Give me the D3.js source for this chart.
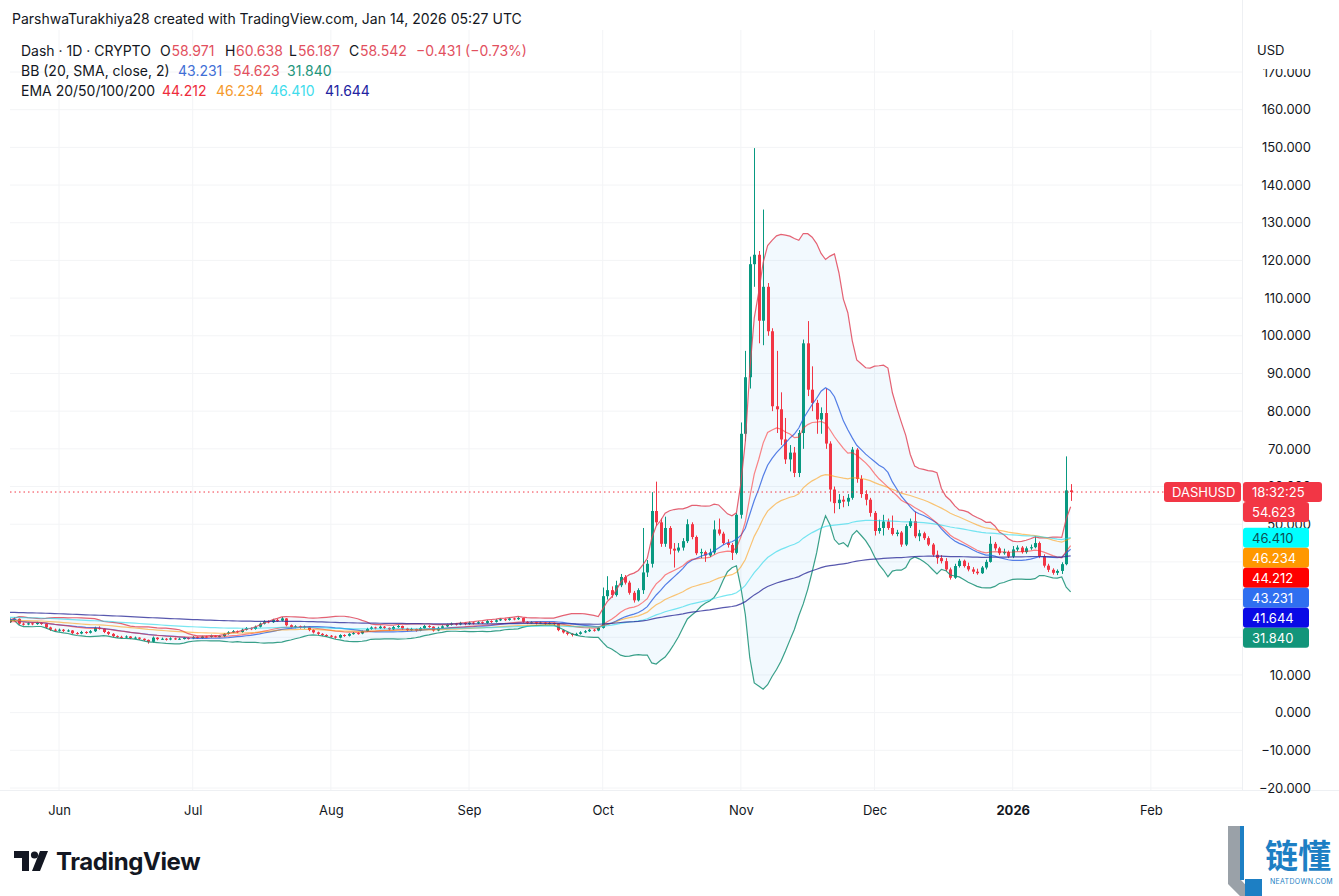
<!DOCTYPE html>
<html>
<head>
<meta charset="utf-8">
<script src="https://cdn.jsdelivr.net/npm/d3@7"></script>
<style>
  html, body { margin: 0; padding: 0; background: #fff; }
  svg { display: block; font-family: Inter, "Noto Sans", sans-serif; }
</style>
</head>
<body>
<svg id="chart" width="1339" height="896"></svg>
<script>
// daily candles, DASH/USD, first candle 2025-05-21
const startDate = "2025-05-21"
const firstOpen = 24.0

// closes, by month
const closes = [
  // May 21-31
  24.6, 24.9, 23.6, 23.4, 23.7, 23.5, 23.8, 23.6, 22.6, 22.0, 21.8,
  // Jun
  22.0, 21.7, 21.8, 21.1, 21.0, 21.4, 21.2, 21.6, 22.5, 22.3, 21.4, 20.9, 20.3, 20.1, 20.0,
  20.2, 19.8, 19.9, 19.6, 19.3, 18.8, 19.9, 19.5, 19.6, 19.4, 19.7, 19.5, 19.6, 19.8, 19.7,
  // Jul
  20.0, 19.8, 20.2, 20.1, 20.4, 20.2, 20.3, 20.9, 21.3, 21.6, 21.4, 22.0, 22.4, 22.2, 22.8, 23.6,
  24.2, 24.0, 24.6, 24.4, 25.0, 23.2, 22.7, 22.9, 22.6, 22.8, 21.9, 21.3, 20.9, 20.6, 20.4,
  // Aug
  20.2, 19.9, 20.6, 20.4, 20.9, 21.1, 21.0, 21.6, 22.2, 22.6, 22.4, 22.8, 22.5, 22.1, 22.7, 23.0,
  22.3, 21.9, 22.2, 21.8, 22.4, 23.0, 22.8, 21.8, 22.5, 22.9, 23.3, 23.6, 23.4, 23.8, 23.5,
  // Sep
  23.9, 23.7, 24.0, 23.8, 24.3, 24.1, 24.5, 24.8, 24.6, 25.0, 24.8, 25.1, 24.1, 23.8, 24.0,
  23.7, 23.9, 23.6, 23.8, 23.5, 21.9, 21.3, 20.9, 20.6, 20.9, 21.3, 21.6, 22.0, 21.8, 22.5,
  // Oct
  30.9, 32.5, 31.2, 33.8, 36.0, 34.5, 31.8, 29.8, 32.5, 37.2, 39.5, 53.5, 50.5, 44.8, 49.0, 43.5,
  43.0, 43.8, 45.5, 50.0, 46.6, 42.3, 42.6, 41.7, 42.5, 48.6, 47.5, 45.0, 44.5, 42.4, 52.5,
  // Nov
  74.0, 89.0, 119.0, 121.5, 104.0, 113.0, 101.2, 81.3, 80.5, 72.5, 67.2, 69.0, 63.6, 74.2, 98.0,
  85.7, 82.2, 77.8, 79.5, 71.4, 59.2, 55.6, 56.5, 56.0, 57.0, 69.8, 62.0, 58.0, 56.5, 53.0,
  // Dec
  48.2, 49.0, 50.7, 49.0, 47.4, 47.8, 44.6, 49.5, 50.8, 46.8, 47.6, 46.3, 44.6, 41.9, 41.0, 40.2,
  38.0, 35.8, 38.9, 40.3, 38.9, 38.0, 37.4, 37.0, 38.5, 40.0, 44.8, 43.6, 42.3, 42.6, 41.4,
  // Jan 1-14
  43.3, 43.8, 42.6, 43.6, 43.9, 45.0, 41.5, 39.0, 37.9, 37.1, 37.6, 39.4, 58.971, 58.542,
]

const highs = [
  25.0, 25.3, 25.0, 23.9, 24.0, 23.9, 24.1, 24.0, 23.7, 22.8, 22.3,
  22.3, 22.2, 22.1, 21.9, 21.4, 21.7, 21.6, 21.9, 22.8, 22.9, 22.4, 21.6, 21.1, 20.5, 20.4,
  20.5, 20.3, 20.2, 20.0, 19.7, 19.4, 20.2, 20.0, 19.9, 19.8, 20.0, 19.9, 19.9, 20.1, 20.0,
  20.3, 20.2, 20.4, 20.4, 20.7, 20.6, 20.6, 21.1, 21.6, 21.9, 21.8, 22.3, 22.7, 22.6, 23.1, 23.9,
  24.5, 24.5, 24.9, 24.9, 25.4, 25.1, 23.4, 23.2, 23.1, 23.1, 22.9, 22.1, 21.5, 21.1, 20.8,
  20.6, 20.4, 20.8, 20.8, 21.1, 21.4, 21.3, 21.8, 22.5, 22.9, 22.8, 23.1, 23.0, 22.6, 23.0, 23.3,
  23.1, 22.5, 22.5, 22.3, 22.7, 23.3, 23.2, 22.9, 22.8, 23.2, 23.6, 23.9, 23.8, 24.1, 24.0,
  24.2, 24.1, 24.3, 24.2, 24.6, 24.5, 24.8, 25.1, 25.0, 25.3, 25.2, 25.5, 25.2, 24.3, 24.3,
  24.1, 24.2, 24.0, 24.1, 23.9, 23.6, 22.1, 21.5, 21.1, 21.2, 21.6, 21.9, 22.3, 22.2, 22.8,
  33.2, 36.2, 33.5, 35.0, 36.8, 36.5, 35.0, 32.3, 33.0, 49.0, 40.5, 58.5, 61.3, 51.5, 52.0, 49.5,
  45.0, 45.0, 46.3, 51.3, 50.5, 47.0, 43.5, 43.0, 43.5, 51.0, 51.5, 48.0, 46.0, 45.0, 53.0,
  77.0, 96.0, 121.0, 149.8, 122.5, 133.5, 114.0, 102.0, 96.0, 85.0, 78.2, 71.0, 70.5, 75.0, 99.0,
  103.9, 91.9, 83.0, 81.0, 86.0, 72.0, 60.0, 58.0, 57.5, 58.0, 70.5, 70.2, 63.0, 59.0, 57.0,
  53.5, 51.2, 52.5, 51.5, 52.3, 48.5, 48.2, 50.0, 51.5, 53.4, 48.5, 48.0, 46.8, 45.0, 43.0, 41.8,
  41.0, 38.5, 39.5, 40.8, 40.6, 39.8, 38.6, 38.2, 38.9, 40.6, 46.8, 45.3, 44.0, 43.5, 43.0,
  44.2, 44.4, 44.2, 44.1, 44.6, 46.8, 45.4, 42.0, 39.5, 38.3, 38.0, 39.9, 68.0, 60.638,
]

const lows = [
  23.8, 24.3, 23.3, 23.1, 23.2, 23.2, 23.3, 23.3, 22.3, 21.7, 21.5,
  21.5, 21.4, 21.4, 20.8, 20.7, 20.8, 20.9, 21.0, 21.4, 22.0, 21.1, 20.6, 20.0, 19.8, 19.7,
  19.8, 19.5, 19.6, 19.3, 19.0, 18.3, 18.6, 19.2, 19.3, 19.1, 19.2, 19.3, 19.3, 19.4, 19.4,
  19.5, 19.6, 19.6, 19.9, 19.9, 20.0, 20.0, 20.1, 20.7, 21.1, 21.1, 21.2, 21.8, 21.9, 22.0, 22.6,
  23.4, 23.7, 23.8, 24.1, 24.2, 22.9, 22.4, 22.4, 22.3, 22.3, 21.6, 21.0, 20.6, 20.3, 20.1,
  19.9, 19.6, 19.7, 20.1, 20.2, 20.7, 20.7, 20.8, 21.4, 22.0, 22.1, 22.2, 22.2, 21.8, 21.9, 22.5,
  22.0, 21.6, 21.7, 21.5, 21.6, 22.2, 22.5, 21.5, 21.6, 22.3, 22.7, 23.1, 23.1, 23.2, 23.2,
  23.3, 23.4, 23.5, 23.5, 23.6, 23.8, 23.9, 24.3, 24.3, 24.4, 24.5, 24.6, 23.8, 23.5, 23.6,
  23.4, 23.5, 23.3, 23.4, 23.2, 21.6, 21.0, 20.5, 20.2, 20.4, 20.7, 21.1, 21.4, 21.5, 21.6,
  22.3, 30.0, 30.5, 30.8, 33.3, 34.0, 31.3, 29.2, 29.5, 31.5, 36.0, 38.5, 49.5, 44.0, 44.0, 42.0,
  38.5, 42.5, 43.0, 45.0, 46.0, 41.8, 41.0, 40.0, 41.3, 42.0, 47.0, 44.5, 43.8, 40.5, 42.0,
  51.5, 72.0, 86.0, 113.0, 98.0, 97.5, 100.0, 80.0, 74.2, 71.0, 66.0, 64.0, 62.5, 62.5, 70.0,
  84.0, 80.0, 74.0, 74.0, 70.0, 56.0, 52.9, 54.0, 54.5, 54.8, 56.5, 61.0, 57.0, 55.0, 52.0,
  47.0, 47.5, 47.0, 48.5, 47.0, 46.8, 44.0, 44.2, 49.0, 46.3, 45.5, 45.8, 44.2, 41.4, 39.5, 39.6,
  37.6, 35.3, 35.5, 38.5, 38.5, 37.5, 36.8, 36.6, 36.8, 38.0, 39.8, 43.0, 41.8, 41.9, 41.0,
  41.0, 42.8, 42.2, 42.2, 43.2, 43.6, 41.0, 38.5, 37.3, 36.6, 36.5, 36.8, 39.1, 56.187,
]

// EMA values at the first visible candle
const emaSeeds = [24.1, 24.5, 25.3, 26.6]
const emaLengths = [20, 50, 100, 200]

// axis ticks
const yTicks = [-20, -10, 0, 10, 20, 30, 40, 50, 60, 70, 80, 90, 100, 110, 120, 130, 140, 150, 160, 170]
const monthTicks = ["2025-06-01", "2025-07-01", "2025-08-01", "2025-09-01", "2025-10-01",
  "2025-11-01", "2025-12-01", "2026-01-01", "2026-02-01"]
const monthLabels = ["Jun", "Jul", "Aug", "Sep", "Oct", "Nov", "Dec", "2026", "Feb"]

// legend texts
const ohlcValues = ["58.971", "60.638", "56.187", "58.542"]
const changeText = "\u22120.431 (\u22120.73%)"
const bbValues = ["43.231", "54.623", "31.840"]   // basis, upper, lower
const emaValues = ["44.212", "46.234", "46.410", "41.644"]
const countdown = "18:32:25"

const UP = "#089981", DOWN = "#F23645"
const TEXT = "#131722"

const svg = d3.select("#chart")

/*
 * scales
 */
const x = d3.scaleUtc()
  .domain([new Date("2025-05-21"), new Date("2026-02-21")])
  .range([10, 1240])

const y = d3.scaleLinear().domain([-20, 170]).range([788, 72])

/*
 * series
 */
const start = new Date(startDate)
const candles = closes.map((c, i) => ({
  date: d3.utcDay.offset(start, i),
  o: i ? closes[i - 1] : firstOpen,
  h: highs[i],
  l: lows[i],
  c,
}))

// bollinger bands (20, 2)
const bb = candles.map((d, i) => {
  const win = closes.slice(Math.max(0, i - 19), i + 1)
  const m = d3.mean(win)
  const sd = Math.sqrt(d3.mean(win, (v) => (v - m) ** 2))
  return { date: d.date, basis: m, upper: m + 2 * sd, lower: m - 2 * sd }
})

// EMAs
const emas = emaLengths.map((n, k) => {
  const a = 2 / (n + 1)
  let e = emaSeeds[k]
  return candles.map((d, i) => {
    if (i > 0) e = a * d.c + (1 - a) * e
    return { date: d.date, v: e }
  })
})

/*
 * background grid
 */
svg.append("rect").attr("width", 1339).attr("height", 896).attr("fill", "#fff")

const grid = svg.append("g")
grid.selectAll("line.h")
  .data(yTicks)
  .join("line")
  .attr("x1", 10).attr("x2", 1242)
  .attr("y1", (d) => y(d)).attr("y2", (d) => y(d))
  .attr("stroke", "#f3f4f6")
grid.selectAll("line.v")
  .data(monthTicks)
  .join("line")
  .attr("x1", (d) => x(new Date(d))).attr("x2", (d) => x(new Date(d)))
  .attr("y1", 30).attr("y2", 790)
  .attr("stroke", "#f3f4f6")

// axis separators
svg.append("line").attr("x1", 1242.5).attr("x2", 1242.5).attr("y1", 0).attr("y2", 790)
  .attr("stroke", "#eef0f3")
svg.append("line").attr("x1", 0).attr("x2", 1339).attr("y1", 790.5).attr("y2", 790.5)
  .attr("stroke", "#eef0f3")

svg.append("defs").append("clipPath").attr("id", "plotClip")
  .append("rect").attr("x", 10).attr("y", 30).attr("width", 1232).attr("height", 760)

const plot = svg.append("g").attr("clip-path", "url(#plotClip)")

/*
 * bollinger fill
 */
plot.append("path")
  .datum(bb)
  .attr("fill", "rgba(33,150,243,0.06)")
  .attr("d", d3.area().x((d) => x(d.date)).y0((d) => y(d.lower)).y1((d) => y(d.upper)))

/*
 * candles
 */
const cg = plot.append("g")
const bodyW = 3
cg.selectAll("line")
  .data(candles)
  .join("line")
  .attr("x1", (d) => Math.round(x(d.date)) + 0.5)
  .attr("x2", (d) => Math.round(x(d.date)) + 0.5)
  .attr("y1", (d) => y(d.h))
  .attr("y2", (d) => y(d.l))
  .attr("stroke", (d) => (d.c >= d.o ? UP : DOWN))
cg.selectAll("rect")
  .data(candles)
  .join("rect")
  .attr("x", (d) => Math.round(x(d.date)) + 0.5 - bodyW / 2)
  .attr("width", bodyW)
  .attr("y", (d) => y(Math.max(d.o, d.c)))
  .attr("height", (d) => Math.max(1, Math.abs(y(d.o) - y(d.c))))
  .attr("fill", (d) => (d.c >= d.o ? UP : DOWN))

/*
 * indicator lines
 */
const line = d3.line().x((d) => x(d.date)).y((d) => y(d.v))
const lines = [
  { data: bb.map((d) => ({ date: d.date, v: d.upper })), color: "#e0475a", op: 0.85 },
  { data: bb.map((d) => ({ date: d.date, v: d.lower })), color: "#168f74", op: 0.85 },
  { data: bb.map((d) => ({ date: d.date, v: d.basis })), color: "#2c5fe0", op: 0.8 },
  { data: emas[0], color: "#ff2020", op: 0.55 },
  { data: emas[1], color: "#ff9800", op: 0.55 },
  { data: emas[2], color: "#1fd6e8", op: 0.6 },
  { data: emas[3], color: "#2e2e9a", op: 0.8 },
]
plot.selectAll("path.ind")
  .data(lines)
  .join("path")
  .attr("class", "ind")
  .attr("fill", "none")
  .attr("stroke", (d) => d.color)
  .attr("stroke-opacity", (d) => d.op)
  .attr("stroke-width", 1.2)
  .attr("d", (d) => line(d.data))

/*
 * last price line
 */
const lastY = y(+ohlcValues[3])
svg.append("line")
  .attr("x1", 10).attr("x2", 1242)
  .attr("y1", lastY).attr("y2", lastY)
  .attr("stroke", DOWN)
  .attr("stroke-dasharray", "1.5,3")

/*
 * axis labels, stacked under the last price
 */
const axisLabels = [
  { v: +bbValues[1], text: bbValues[1], bg: "#F23645", fg: "#fff" },
  { v: +emaValues[2], text: emaValues[2], bg: "#00FFFF", fg: "#0d4f55" },
  { v: +emaValues[1], text: emaValues[1], bg: "#FF9800", fg: "#fff" },
  { v: +emaValues[0], text: emaValues[0], bg: "#FF0000", fg: "#fff" },
  { v: +bbValues[0], text: bbValues[0], bg: "#2f6ff0", fg: "#fff" },
  { v: +emaValues[3], text: emaValues[3], bg: "#0a0ae6", fg: "#fff" },
  { v: +bbValues[2], text: bbValues[2], bg: "#12957a", fg: "#fff" },
].sort((a, b) => b.v - a.v)

let prevY = lastY
axisLabels.forEach((d) => {
  d.cy = Math.max(y(d.v), prevY + 20)
  prevY = d.cy
})
const labelCenters = [lastY, ...axisLabels.map((d) => d.cy)]

/*
 * price axis (ticks fully under a label are left out)
 */
const shownTicks = yTicks.filter((t) => labelCenters.every((c) => Math.abs(y(t) - c) > 4.5))
const yAxis = svg.append("g")
  .attr("transform", "translate(1311,0)")
  .call(d3.axisRight(y).tickValues(shownTicks).tickFormat(d3.format(".3f")).tickSize(0))
yAxis.select(".domain").remove()
yAxis.selectAll("text")
  .attr("x", 0)
  .attr("text-anchor", "end")
  .attr("font-family", "Inter, 'Noto Sans', sans-serif")
  .attr("font-size", 13)
  .attr("fill", TEXT)

// currency box, hides the top of the 170 tick
svg.append("rect").attr("x", 1244).attr("y", 32).attr("width", 95).attr("height", 37).attr("fill", "#fff")
svg.append("text").attr("x", 1257).attr("y", 51).attr("dominant-baseline", "middle")
  .attr("font-size", 13).attr("fill", TEXT).text("USD")

/*
 * time axis
 */
const xAxis = svg.append("g")
  .attr("transform", "translate(0,806)")
  .call(d3.axisBottom(x)
    .tickValues(monthTicks.map((d) => new Date(d)))
    .tickFormat((d, i) => monthLabels[i])
    .tickSize(0)
    .tickPadding(0))
xAxis.select(".domain").remove()
xAxis.selectAll("text")
  .attr("font-family", "Inter, 'Noto Sans', sans-serif")
  .attr("font-size", 13)
  .attr("fill", TEXT)
  .attr("font-weight", (d, i) => (monthLabels[i] === "2026" ? 700 : 400))

/*
 * label boxes
 */
const lab = svg.append("g")
  .selectAll("g")
  .data(axisLabels)
  .join("g")
  .attr("transform", (d) => `translate(1243,${d.cy})`)
lab.append("rect")
  .attr("x", 0).attr("y", -10).attr("width", 66).attr("height", 20).attr("rx", 3)
  .attr("fill", (d) => d.bg)
lab.append("text")
  .attr("x", 9).attr("dominant-baseline", "central")
  .attr("font-size", 13).attr("fill", (d) => d.fg)
  .text((d) => d.text)

// symbol + countdown
const pl = svg.append("g").attr("transform", `translate(0,${lastY})`)
pl.append("rect").attr("x", 1164).attr("y", -10).attr("width", 77).attr("height", 20).attr("rx", 3).attr("fill", DOWN)
pl.append("text").attr("x", 1172).attr("dominant-baseline", "central").attr("font-size", 13)
  .attr("fill", "#fff").text("DASHUSD")
pl.append("rect").attr("x", 1243).attr("y", -10).attr("width", 79).attr("height", 20).attr("rx", 3).attr("fill", DOWN)
pl.append("text").attr("x", 1252).attr("dominant-baseline", "central").attr("font-size", 13)
  .attr("fill", "#fff").text(countdown)

/*
 * header + legend
 */
svg.append("text").attr("x", 12).attr("y", 18).attr("dominant-baseline", "central")
  .attr("font-size", 14).attr("fill", TEXT)
  .text("ParshwaTurakhiya28 created with TradingView.com, Jan 14, 2026 05:27 UTC")

const legendRow = (yy, parts) => {
  const t = svg.append("text").attr("y", yy).attr("dominant-baseline", "central").attr("font-size", 14)
  parts.forEach(([px, s, c]) => t.append("tspan").attr("x", px).attr("fill", c).text(s))
}
const RED = "#e2505e"
legendRow(50, [
  [21, "Dash \u00b7 1D \u00b7 CRYPTO", TEXT],
  [160, "O", TEXT], [171.5, ohlcValues[0], RED],
  [225, "H", TEXT], [236, ohlcValues[1], RED],
  [289, "L", TEXT], [298, ohlcValues[2], RED],
  [349, "C", TEXT], [360, ohlcValues[3], RED],
  [416, changeText, RED],
])
legendRow(70, [
  [21, "BB (20, SMA, close, 2)", TEXT],
  [178, bbValues[0], "#3f6fd6"],
  [233, bbValues[1], "#e2505e"],
  [287, bbValues[2], "#23957c"],
])
legendRow(90, [
  [21, "EMA 20/50/100/200", TEXT],
  [162, emaValues[0], "#ee2b3b"],
  [216, emaValues[1], "#f59a2c"],
  [270, emaValues[2], "#3fdcec"],
  [325, emaValues[3], "#2222a0"],
])

/*
 * footer logos
 */
const tv = svg.append("g").attr("fill", TEXT)
tv.append("path").attr("d", "M14 851 H29 V871 H22 V858 H14 Z")
tv.append("circle").attr("cx", 34.5).attr("cy", 855).attr("r", 3.6)
tv.append("path").attr("d", "M32 871 L40 851 H48 L40 871 Z")
tv.append("text").attr("x", 56).attr("y", 870).attr("font-size", 24).attr("font-weight", 700)
  .attr("letter-spacing", -0.4).text("TradingView")

const nd = svg.append("g")
nd.append("path").attr("d", "M1228 826 H1241 V880 L1256 896 H1240 L1228 884 Z").attr("fill", "#9aa1a8")
nd.append("rect").attr("x", 1240).attr("y", 826).attr("width", 4).attr("height", 54).attr("fill", "#1d7fc4")
nd.append("rect").attr("x", 1245).attr("y", 879).attr("width", 17).attr("height", 17).attr("fill", "#1d7fc4")
nd.append("text").attr("x", 1265).attr("y", 868).attr("font-family", "'Noto Sans CJK SC', sans-serif")
  .attr("font-size", 33).attr("font-weight", 700).attr("fill", "#1d7fc4").text("链懂")
nd.append("text").attr("x", 1270).attr("y", 884).attr("font-size", 7).attr("fill", "#1d7fc4")
  .attr("letter-spacing", 0.3).text("NEATDOWN.COM")
</script>
</body>
</html>
